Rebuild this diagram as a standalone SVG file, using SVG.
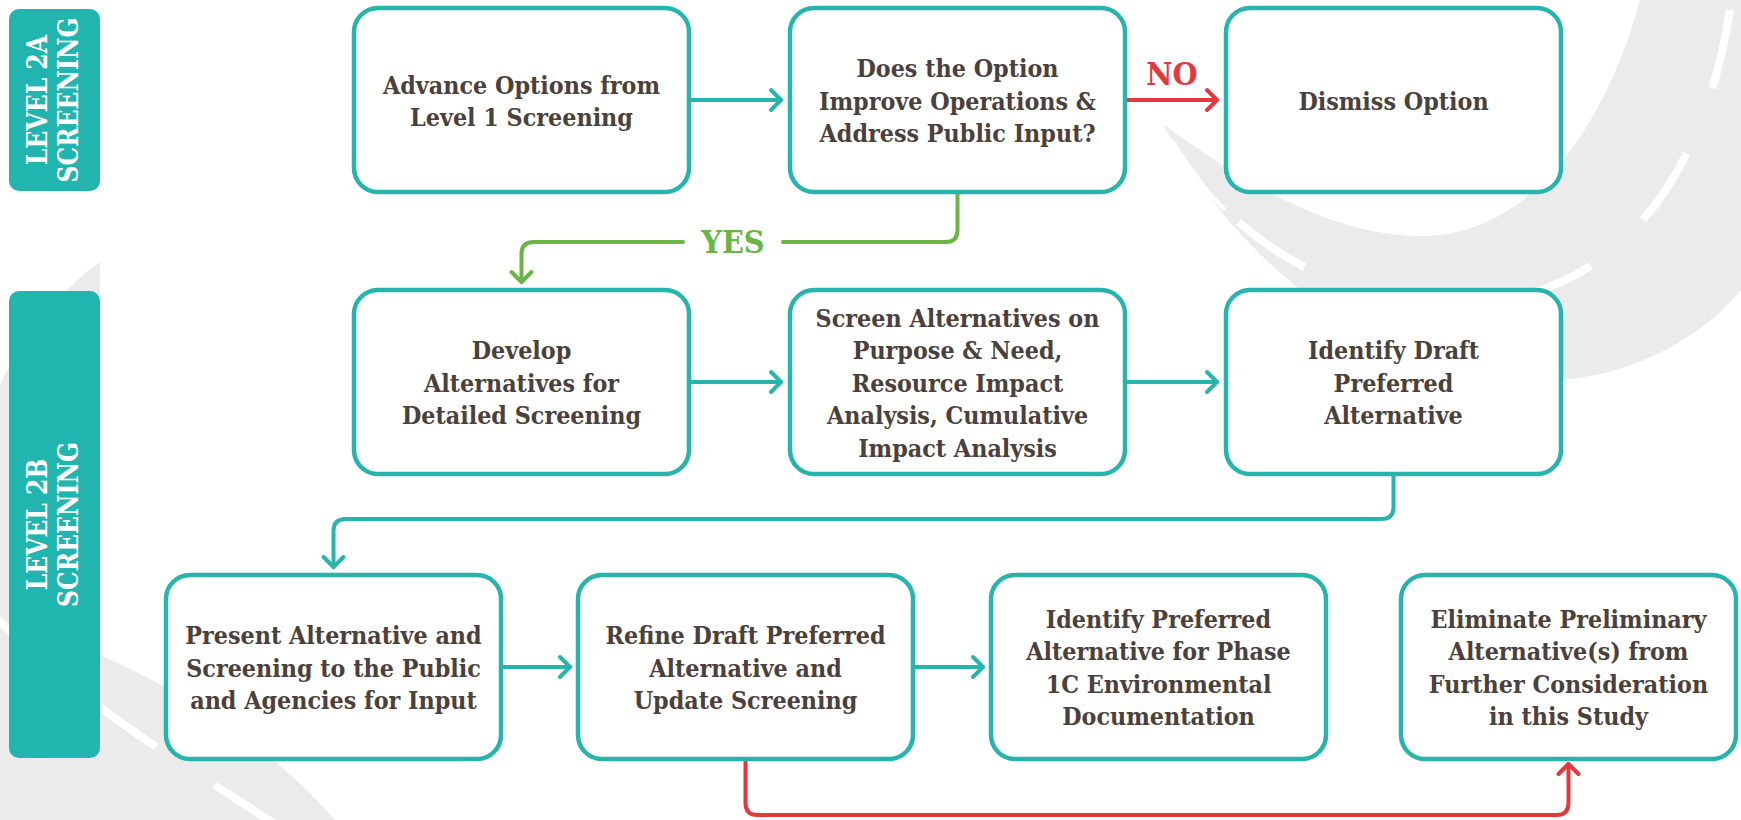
<svg xmlns="http://www.w3.org/2000/svg" width="1741" height="820" viewBox="0 0 1741 820">
<style>
.bg{fill:#ebebeb}
.dash{fill:none;stroke:#fff;stroke-width:8;stroke-dasharray:80 70}
.edge{fill:none;stroke:#fff;stroke-width:4}
.lvl{fill:#22b4ae}
.lvlt{font-family:"DejaVu Serif","Liberation Serif",serif;font-weight:bold;font-size:28px;fill:#fff;text-anchor:middle}
.box{fill:#fff;stroke:#27b4ad;stroke-width:4.5}
.t{font-family:"DejaVu Serif","Liberation Serif",serif;font-weight:bold;font-size:24px;fill:#4b403b;text-anchor:middle}
.c{fill:none;stroke-width:4;stroke-linecap:round;stroke-linejoin:round}
.teal{stroke:#27b4ad}
.green{stroke:#6ab544}
.red{stroke:#e3383e}
.lab{font-family:"DejaVu Serif","Liberation Serif",serif;font-weight:bold;font-size:31px;text-anchor:middle}
</style>
<defs>
<marker id="aT" viewBox="0 0 12 22" refX="11" refY="11" markerWidth="12" markerHeight="22" markerUnits="userSpaceOnUse" orient="auto" overflow="visible"><path d="M1,1 L11,11 L1,21" fill="none" stroke="#27b4ad" stroke-width="4" stroke-linecap="round" stroke-linejoin="round"/></marker>
<marker id="aG" viewBox="0 0 12 22" refX="11" refY="11" markerWidth="12" markerHeight="22" markerUnits="userSpaceOnUse" orient="auto" overflow="visible"><path d="M1,1 L11,11 L1,21" fill="none" stroke="#6ab544" stroke-width="4" stroke-linecap="round" stroke-linejoin="round"/></marker>
<marker id="aR" viewBox="0 0 12 22" refX="11" refY="11" markerWidth="12" markerHeight="22" markerUnits="userSpaceOnUse" orient="auto" overflow="visible"><path d="M1,1 L11,11 L1,21" fill="none" stroke="#e3383e" stroke-width="4" stroke-linecap="round" stroke-linejoin="round"/></marker>
</defs>
<rect width="1741" height="820" fill="#fff"/>
<g id="background">
<path class="bg" d="M1640,0 C1610,110 1540,236 1420,236 C1330,236 1240,180 1163,124 C1230,250 1360,370 1530,380 C1620,385 1700,340 1741,290 L1741,0 Z"/>
<path class="dash" d="M1730,10 C1700,200 1600,305 1450,305 C1350,305 1250,250 1190,170"/>
<path class="edge" d="M1172,140 C1190,170 1205,190 1225,210"/>
<path class="bg" d="M100,262 C60,290 20,340 0,385 L0,820 L335,820 C270,745 180,690 100,655 Z"/>
<path class="dash" d="M-20,600 C60,690 160,750 300,840"/>
</g>
<g id="level2a"><rect class="lvl" x="9" y="9" width="91" height="182" rx="10"/>
<text class="lvlt" transform="translate(0 100) rotate(-90) scale(0.84 1)"><tspan x="0" y="47">LEVEL 2A</tspan><tspan x="0" y="78">SCREENING</tspan></text></g>
<g id="level2b"><rect class="lvl" x="9" y="291" width="91" height="467" rx="10"/>
<text class="lvlt" transform="translate(0 524.5) rotate(-90) scale(0.84 1)"><tspan x="0" y="47">LEVEL 2B</tspan><tspan x="0" y="78">SCREENING</tspan></text></g>
<g id="connectors">
<path class="c teal" d="M690,100 H781" marker-end="url(#aT)"/>
<path class="c red" d="M1126,100 H1217" marker-end="url(#aR)"/>
<path class="c green" d="M957.5,194 V230 Q957.5,242 945.5,242 H783"/>
<path class="c green" d="M683,242 H533.5 Q521.5,242 521.5,254 V282" marker-end="url(#aG)"/>
<path class="c teal" d="M690,382 H781" marker-end="url(#aT)"/>
<path class="c teal" d="M1126,382 H1217" marker-end="url(#aT)"/>
<path class="c teal" d="M1393.5,476 V507 Q1393.5,519 1381.5,519 H345.5 Q333.5,519 333.5,531 V567" marker-end="url(#aT)"/>
<path class="c teal" d="M502,667 H570" marker-end="url(#aT)"/>
<path class="c teal" d="M915,667 H983" marker-end="url(#aT)"/>
<path class="c red" d="M745.5,761 V803 Q745.5,815 757.5,815 H1556.5 Q1568.5,815 1568.5,803 V764" marker-end="url(#aR)"/>
<text class="lab" fill="#6ab544" transform="translate(733 0) scale(0.93 1)" x="0" y="253">YES</text>
<text class="lab" fill="#e3383e" transform="translate(1172 0) scale(0.93 1)" x="0" y="85">NO</text>
</g>
<g id="n1"><rect class="box" x="354" y="8" width="335" height="184" rx="24"/>
<text class="t" transform="translate(521.5 0) scale(0.93 1)"><tspan x="0" y="93.75">Advance Options from</tspan><tspan x="0" y="126.25">Level 1 Screening</tspan></text></g>
<g id="n2"><rect class="box" x="790" y="8" width="335" height="184" rx="24"/>
<text class="t" transform="translate(957.5 0) scale(0.93 1)"><tspan x="0" y="77.5">Does the Option</tspan><tspan x="0" y="110">Improve Operations &amp;</tspan><tspan x="0" y="142.5">Address Public Input?</tspan></text></g>
<g id="n3"><rect class="box" x="1226" y="8" width="335" height="184" rx="24"/>
<text class="t" transform="translate(1393.5 0) scale(0.93 1)"><tspan x="0" y="110">Dismiss Option</tspan></text></g>
<g id="n4"><rect class="box" x="354" y="290" width="335" height="184" rx="24"/>
<text class="t" transform="translate(521.5 0) scale(0.93 1)"><tspan x="0" y="359.5">Develop</tspan><tspan x="0" y="392">Alternatives for</tspan><tspan x="0" y="424.5">Detailed Screening</tspan></text></g>
<g id="n5"><rect class="box" x="790" y="290" width="335" height="184" rx="24"/>
<text class="t" transform="translate(957.5 0) scale(0.93 1)"><tspan x="0" y="327">Screen Alternatives on</tspan><tspan x="0" y="359.5">Purpose &amp; Need,</tspan><tspan x="0" y="392">Resource Impact</tspan><tspan x="0" y="424.5">Analysis, Cumulative</tspan><tspan x="0" y="457">Impact Analysis</tspan></text></g>
<g id="n6"><rect class="box" x="1226" y="290" width="335" height="184" rx="24"/>
<text class="t" transform="translate(1393.5 0) scale(0.93 1)"><tspan x="0" y="359.5">Identify Draft</tspan><tspan x="0" y="392">Preferred</tspan><tspan x="0" y="424.5">Alternative</tspan></text></g>
<g id="n7"><rect class="box" x="166" y="575" width="335" height="184" rx="24"/>
<text class="t" transform="translate(333.5 0) scale(0.93 1)"><tspan x="0" y="644.5">Present Alternative and</tspan><tspan x="0" y="677">Screening to the Public</tspan><tspan x="0" y="709.5">and Agencies for Input</tspan></text></g>
<g id="n8"><rect class="box" x="578" y="575" width="335" height="184" rx="24"/>
<text class="t" transform="translate(745.5 0) scale(0.93 1)"><tspan x="0" y="644.5">Refine Draft Preferred</tspan><tspan x="0" y="677">Alternative and</tspan><tspan x="0" y="709.5">Update Screening</tspan></text></g>
<g id="n9"><rect class="box" x="991" y="575" width="335" height="184" rx="24"/>
<text class="t" transform="translate(1158.5 0) scale(0.93 1)"><tspan x="0" y="628">Identify Preferred</tspan><tspan x="0" y="660.5">Alternative for Phase</tspan><tspan x="0" y="693">1C Environmental</tspan><tspan x="0" y="725.5">Documentation</tspan></text></g>
<g id="n10"><rect class="box" x="1401" y="575" width="335" height="184" rx="24"/>
<text class="t" transform="translate(1568.5 0) scale(0.93 1)"><tspan x="0" y="628">Eliminate Preliminary</tspan><tspan x="0" y="660.5">Alternative(s) from</tspan><tspan x="0" y="693">Further Consideration</tspan><tspan x="0" y="725.5">in this Study</tspan></text></g>
</svg>
